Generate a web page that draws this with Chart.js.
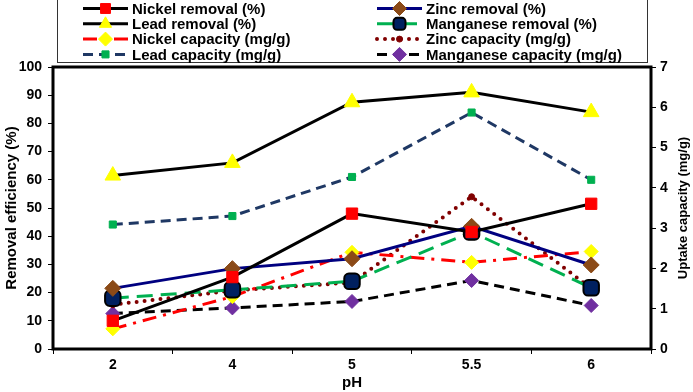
<!DOCTYPE html>
<html>
<head>
<meta charset="utf-8">
<script src="https://cdn.jsdelivr.net/npm/chart.js@4.4.1/dist/chart.umd.min.js"></script>
<style>
  body { margin: 0; background: #fff; }
  canvas { display: block; }
</style>
</head>
<body>
<canvas id="phChart" width="693" height="392"></canvas>
<script>
// pH categories
const phLabels = ['2', '4', '5', '5.5', '6'];

// removal efficiency (%) - left axis
const nickelRemoval = [10, 25.5, 48, 41.5, 51.5];
const zincRemoval = [21.5, 28.5, 32, 43.5, 29.8];
const leadRemoval = [61.5, 66, 87.5, 91, 84];
const manganeseRemoval = [18, 21, 24, 41.5, 21.7];

// uptake capacity (mg/g) - right axis
const nickelCapacity = [0.5, 1.3, 2.4, 2.15, 2.42];
const zincCapacity = [1.1, 1.45, 1.65, 3.78, 1.5];
const leadCapacity = [3.09, 3.3, 4.27, 5.87, 4.2];
const manganeseCapacity = [0.88, 1.02, 1.18, 1.7, 1.08];

const FONT = '"Liberation Sans", Arial, sans-serif';

function series(label, data, axis, line, dash, width, style, fill, border, radius, bw) {
    return {
        label: label,
        data: data,
        yAxisID: axis,
        borderColor: line,
        borderDash: dash,
        borderWidth: width,
        borderCapStyle: dash.length && dash[0] === 0 ? 'round' : 'butt',
        pointStyle: style,
        pointBackgroundColor: fill,
        pointBorderColor: border,
        pointBorderWidth: bw,
        pointRadius: radius,
        pointHoverRadius: radius,
        tension: 0,
        fill: false
    };
}

const datasets = [
    series('Nickel removal (%)', nickelRemoval, 'y', '#000000', [], 3, 'rect', '#FF0000', '#FF0000', 8, 1),
    series('Zinc removal (%)', zincRemoval, 'y', '#000080', [], 3, 'rectRot', '#8B4A17', '#8B4A17', 8, 1),
    series('Lead removal (%)', leadRemoval, 'y', '#000000', [], 3, 'triangle', '#FFFF00', '#FFFF00', 9, 1),
    series('Manganese removal (%)', manganeseRemoval, 'y', '#00B050', [16, 8], 3, 'rectRounded', '#002060', '#000000', 9, 2),
    series('Nickel capacity (mg/g)', nickelCapacity, 'y1', '#FF0000', [14, 7, 3, 7], 3, 'rectRot', '#FFFF00', '#FFFF00', 7, 1),
    series('Zinc capacity (mg/g)', zincCapacity, 'y1', '#800000', [0, 8], 4, 'circle', '#800000', '#800000', 3, 1),
    series('Lead capacity (mg/g)', leadCapacity, 'y1', '#1F3864', [10, 6], 3, 'rect', '#00B050', '#00B050', 5, 1),
    series('Manganese capacity (mg/g)', manganeseCapacity, 'y1', '#000000', [10, 6], 3, 'rectRot', '#7030A0', '#7030A0', 7, 1)
];

// frame round the plot area + right axis title (reads bottom to top)
const frame = {
    id: 'frame',
    afterDatasetsDraw(chart) {
        const a = chart.chartArea;
        const ctx = chart.ctx;
        ctx.save();
        ctx.strokeStyle = '#000';
        ctx.lineWidth = 3;
        ctx.strokeRect(a.left, a.top, a.right - a.left, a.bottom - a.top);
        ctx.translate(683, (a.top + a.bottom) / 2);
        ctx.rotate(-Math.PI / 2);
        ctx.font = 'bold 13px ' + FONT;
        ctx.fillStyle = '#000';
        ctx.textAlign = 'center';
        ctx.textBaseline = 'middle';
        ctx.fillText('Uptake capacity (mg/g)', 0, 0);
        ctx.restore();
    }
};

// two column legend in a box at the top
const legendBox = {
    id: 'legendBox',
    afterDraw(chart) {
        const ctx = chart.ctx;
        ctx.save();
        ctx.strokeStyle = '#333';
        ctx.lineWidth = 1;
        ctx.strokeRect(57.5, -2, 590, 64.5);
        ctx.font = 'bold 15px ' + FONT;
        ctx.textBaseline = 'middle';
        chart.data.datasets.forEach((ds, i) => {
            const col = i % 2, row = Math.floor(i / 2);
            const x0 = col ? 377 : 83, x1 = x0 + 45, y = 8.5 + row * 15.3;
            ctx.beginPath();
            ctx.setLineDash(ds.borderDash);
            ctx.lineCap = ds.borderCapStyle;
            ctx.strokeStyle = ds.borderColor;
            ctx.lineWidth = ds.borderWidth;
            ctx.moveTo(x0, y);
            ctx.lineTo(x1, y);
            ctx.stroke();
            ctx.setLineDash([]);
            ctx.lineCap = 'butt';
            ctx.fillStyle = ds.pointBackgroundColor;
            ctx.strokeStyle = ds.pointBorderColor;
            ctx.lineWidth = ds.pointBorderWidth;
            Chart.helpers.drawPoint(ctx, {
                pointStyle: ds.pointStyle,
                radius: Math.min(ds.pointRadius, 7),
                borderWidth: ds.pointBorderWidth,
                rotation: 0
            }, (x0 + x1) / 2, y);
            ctx.fillStyle = '#000';
            ctx.textAlign = 'left';
            ctx.fillText(ds.label, x1 + 4, y + 1);
        });
        ctx.restore();
    }
};

const ctx = document.getElementById('phChart').getContext('2d');
const phChart = new Chart(ctx, {
    type: 'line',
    data: {
        labels: phLabels,
        datasets: datasets
    },
    options: {
        responsive: false,
        animation: false,
        layout: { padding: { top: 67, left: 0, right: 0, bottom: 0 } },
        plugins: {
            legend: { display: false },
            tooltip: { enabled: false }
        },
        scales: {
            x: {
                offset: true,
                grid: { display: true, drawOnChartArea: false, offset: true, color: '#000', tickLength: 5 },
                border: { display: false },
                ticks: { color: '#000', font: { family: FONT, size: 14, weight: 'bold' }, padding: 3 },
                title: { display: true, text: 'pH', color: '#000', font: { family: FONT, size: 15, weight: 'bold' }, padding: { top: 0, bottom: 0 } },
                afterFit: s => { s.height = 43; }
            },
            y: {
                position: 'left',
                min: 0,
                max: 100,
                ticks: { stepSize: 10, color: '#000', font: { family: FONT, size: 14, weight: 'bold' }, padding: 6 },
                grid: { drawOnChartArea: false, color: '#000', tickLength: 5 },
                border: { display: false },
                title: { display: true, text: 'Removal efficiency (%)', color: '#000', font: { family: FONT, size: 15, weight: 'bold' }, padding: { top: 3, bottom: 0 } },
                afterFit: s => { s.width = 53; }
            },
            y1: {
                position: 'right',
                min: 0,
                max: 7,
                ticks: { stepSize: 1, color: '#000', font: { family: FONT, size: 14, weight: 'bold' }, padding: 4 },
                grid: { drawOnChartArea: false, color: '#000', tickLength: 5 },
                border: { display: false },
                title: { display: false },
                afterFit: s => { s.width = 42; }
            }
        }
    },
    plugins: [frame, legendBox]
});
</script>
</body>
</html>
